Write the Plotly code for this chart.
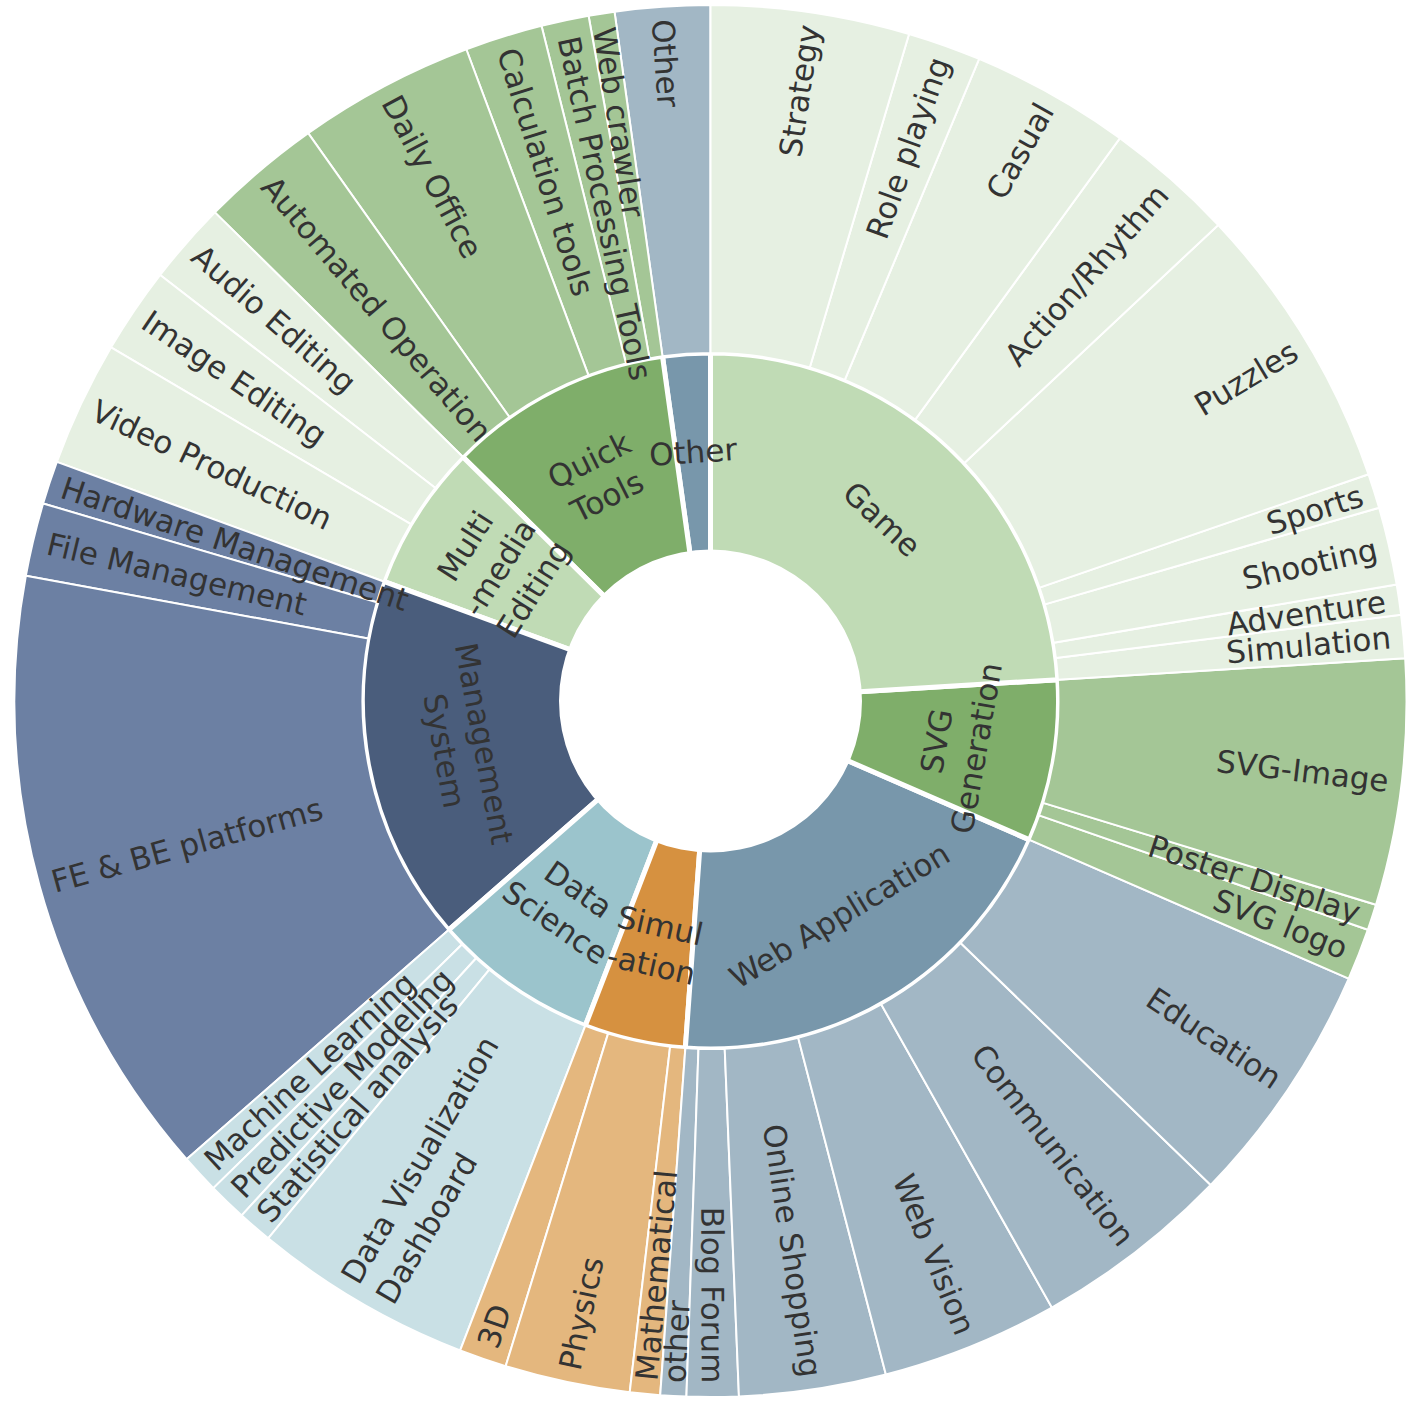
import math
import plotly.graph_objects as go

# inner ring, clockwise from 12 o'clock
categories = ["Game", "SVG Generation", "Web Application", "Simulation", "Data Science",
              "Management System", "Multimedia Editing", "Quick Tools", "Other"]
category_text = ["Game", "SVG<br>Generation", "Web Application", "Simul<br>-ation", "Data<br>Science",
                 "Management<br>System", "Multi<br>-media<br>Editing", "Quick<br>Tools", "Other"]

# outer ring, clockwise inside each category
game_items = ["Strategy", "Role playing", "Casual", "Action/Rhythm", "Puzzles",
              "Sports", "Shooting", "Adventure", "Simulation"]
game_values = [46, 17, 37, 30, 67, 8, 18, 7, 10]

svg_items = ["SVG-Image", "Poster Display", "SVG logo"]
svg_values = [57, 6, 12]

web_items = ["Education", "Communication", "Web Vision", "Online Shopping", "Blog Forum", "other"]
web_values = [57, 46, 41, 34, 12, 6]

sim_items = ["Mathematical", "Physics", "3D"]
sim_values = [7, 29, 11]

ds_items = ["Data Visualization<br>Dashboard", "Statistical analysis", "Predictive Modeling", "Machine Learning"]
ds_values = [51, 8, 9, 9]

mgmt_items = ["FE & BE platforms", "File Management", "Hardware Management"]
mgmt_values = [143, 17, 10]

mm_items = ["Video Production", "Image Editing", "Audio Editing"]
mm_values = [29, 20, 19]

qt_items = ["Automated Operation", "Daily Office", "Calculation tools", "Batch Processing Tools", "Web crawler"]
qt_values = [28, 41, 18, 11, 6]

other_items = ["Other"]
other_values = [22]

inner_colors = ["#c0dbb5", "#7fae6a", "#7897ab", "#d69140", "#9bc4cc",
                "#4a5d7c", "#c0dbb5", "#7fae6a", "#7897ab"]
outer_colors = ["#e6f0e2", "#a4c696", "#a2b7c5", "#e4b77e", "#c9e0e5",
                "#6c80a3", "#e6f0e2", "#a4c696", "#a2b7c5"]

children = [(game_items, game_values), (svg_items, svg_values), (web_items, web_values),
            (sim_items, sim_values), (ds_items, ds_values), (mgmt_items, mgmt_values),
            (mm_items, mm_values), (qt_items, qt_values), (other_items, other_values)]

FONT = "DejaVu Sans"
FONT_SIZE = 31
TEXT_COLOR = "#333333"
W, H = 1420, 1404
CX, CY = 710.5, 701
R_OUT, R_MID, R_HOLE = 696, 348, 151.5
R_LABEL_END = 683
R_INNER_LABEL = 250

# rough DejaVu Sans advance widths (em)
CHAR_W = {" ": .318, "&": .780, "-": .361, "/": .337, "3": .636,
          "A": .684, "B": .686, "C": .698, "D": .770, "E": .632, "F": .575, "G": .775,
          "H": .752, "I": .295, "L": .557, "M": .863, "O": .787, "P": .603, "R": .695,
          "S": .635, "T": .611, "V": .684, "W": .989,
          "a": .613, "b": .635, "c": .550, "d": .635, "e": .615, "f": .352, "g": .635,
          "h": .634, "i": .278, "k": .579, "l": .278, "m": .974, "n": .634, "o": .612,
          "p": .635, "r": .411, "s": .521, "t": .392, "u": .634, "v": .592, "w": .818,
          "y": .592, "z": .525}


def text_width(s):
    return max(sum(CHAR_W.get(ch, .6) for ch in line) for line in s.split("<br>")) * FONT_SIZE


def domain_for(radius):
    return dict(x=[(CX - radius) / W, (CX + radius) / W],
                y=[(H - CY - radius) / H, (H - CY + radius) / H])


def to_paper(r, theta):
    a = math.radians(theta)
    return (CX + r * math.sin(a)) / W, (H - CY + r * math.cos(a)) / H


# plotly lays sectors out counter-clockwise, so feed everything reversed
order = list(range(len(categories)))[::-1]

ids, parents, labels, values, colors, widths = [], [], [], [], [], []
for i in order:
    cat = categories[i]
    items, vals = children[i]
    ids.append(cat)
    parents.append("")
    labels.append(cat)
    values.append(sum(vals))
    colors.append(inner_colors[i])
    widths.append(5)
    for name, v in list(zip(items, vals))[::-1]:
        ids.append(cat + "/" + name)
        parents.append(cat)
        labels.append(name.replace("<br>", " "))
        values.append(v)
        colors.append(outer_colors[i])
        widths.append(2)

grand_total = sum(sum(v) for _, v in children)
deg_per_unit = 360.0 / grand_total

annotations = []
start = 0.0
for i, cat in enumerate(categories):
    items, vals = children[i]
    cat_span = sum(vals) * deg_per_unit
    mid = start + cat_span / 2
    x, y = to_paper(R_INNER_LABEL, mid)
    if mid <= 90:
        tang = mid
    elif mid < 270:
        tang = mid - 180
    else:
        tang = mid - 360
    annotations.append(dict(x=x, y=y, xref="paper", yref="paper", text=category_text[i],
                            textangle=tang, showarrow=False, xanchor="center", yanchor="middle",
                            font=dict(family=FONT, size=FONT_SIZE, color=TEXT_COLOR)))
    pos = start
    for name, v in zip(items, vals):
        span = v * deg_per_unit
        m = pos + span / 2
        outward = m < 180
        rc = R_LABEL_END - text_width(name) / 2
        x, y = to_paper(rc, m)
        annotations.append(dict(x=x, y=y, xref="paper", yref="paper", text=name,
                                textangle=(m - 90) if outward else (m - 270),
                                align="right" if outward else "left",
                                showarrow=False, xanchor="center", yanchor="middle",
                                font=dict(family=FONT, size=FONT_SIZE, color=TEXT_COLOR)))
        pos += span
    start += cat_span

fig = go.Figure()
fig.add_trace(go.Sunburst(
    ids=ids, parents=parents, labels=labels, values=values,
    branchvalues="total", sort=False, rotation=90,
    textinfo="none", hoverinfo="label+value",
    marker=dict(colors=colors, line=dict(color="white", width=widths)),
    leaf=dict(opacity=1),
    domain=domain_for(R_OUT),
))
# white disc for the centre hole
fig.add_trace(go.Sunburst(
    ids=["hole"], parents=[""], labels=[""], values=[1],
    textinfo="none", hoverinfo="skip",
    marker=dict(colors=["white"], line=dict(color="white", width=0)),
    leaf=dict(opacity=1),
    domain=domain_for(R_HOLE),
))
fig.update_layout(
    width=W, height=H,
    margin=dict(l=0, r=0, t=0, b=0),
    paper_bgcolor="white",
    annotations=annotations,
    showlegend=False,
)
# drop the browser's default page margin so the figure sits at the window origin
fig.write_html("out.html", config={"displayModeBar": False},
               post_script="document.body.style.margin = '0';")
